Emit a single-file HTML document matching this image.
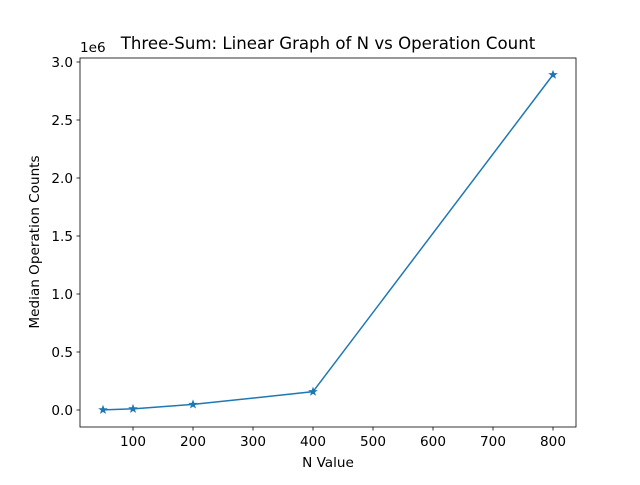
<!DOCTYPE html>
<html><head><meta charset="utf-8"><style>
body{margin:0;background:#fff}
svg text{font-family:"DejaVu Sans","Liberation Sans",sans-serif;fill:#000}
</style></head><body>
<svg id="chart" width="640" height="480" xmlns="http://www.w3.org/2000/svg">
<rect width="640" height="480" fill="#fff"/>
<text x="328" y="49" font-size="16.6" text-anchor="middle">Three-Sum: Linear Graph of N vs Operation Count</text>
<g id="axes"></g>
<rect x="80" y="58" width="496" height="369" fill="none" stroke="#000" stroke-width="0.8"/>
<text x="328" y="467" font-size="13.6" text-anchor="middle">N Value</text>
<text transform="translate(39,242) rotate(-90)" font-size="13.6" text-anchor="middle">Median Operation Counts</text>
<text x="80" y="52" font-size="13.6">1e6</text>
</svg>
<script>
const nValues=[50,100,200,400,800];
const opCounts=[1500,10000,48000,158000,2890000];
const xTicks=[100,200,300,400,500,600,700,800];
const yTicks=[0,0.5,1.0,1.5,2.0,2.5,3.0];
const NS="http://www.w3.org/2000/svg";
const xs=v=>73+v*0.6;
const ys=v=>410-v/1e6*116;
const g=document.getElementById('axes');
function el(t,a){const e=document.createElementNS(NS,t);for(const k in a)e.setAttribute(k,a[k]);g.appendChild(e);return e;}
xTicks.forEach(t=>{
  const l=el('line',{x1:xs(t),x2:xs(t),y1:427,y2:430.5,stroke:'#000','stroke-width':0.8});
  
  
  const tx=el('text',{x:xs(t),y:446,'font-size':13.6,'text-anchor':'middle'});tx.textContent=t;
  
  
});
yTicks.forEach(t=>{
  const y=ys(t*1e6);
  const l=el('line',{x1:76.5,x2:80,y1:y,y2:y,stroke:'#000','stroke-width':0.8});
  
  
  const tx=el('text',{x:73,y:y+5,'font-size':13.6,'text-anchor':'end'});tx.textContent=t.toFixed(1);
  
  
});
const pts=nValues.map((n,i)=>xs(n)+','+ys(opCounts[i])).join(' ');
const line=el('polyline',{points:pts,fill:'none',stroke:'#1f77b4','stroke-width':1.5});


nValues.forEach((n,i)=>{
  const cx=xs(n),cy=ys(opCounts[i]);let p=[];
  for(let k=0;k<10;k++){const r=k%2?1.5:3.6,a=-Math.PI/2+k*Math.PI/5;p.push((cx+r*Math.cos(a)).toFixed(2)+','+(cy+r*Math.sin(a)).toFixed(2));}
  const s=el('polygon',{points:p.join(' '),fill:'#1f77b4',stroke:'#1f77b4','stroke-width':1});
  
  
});
</script>
</body></html>
